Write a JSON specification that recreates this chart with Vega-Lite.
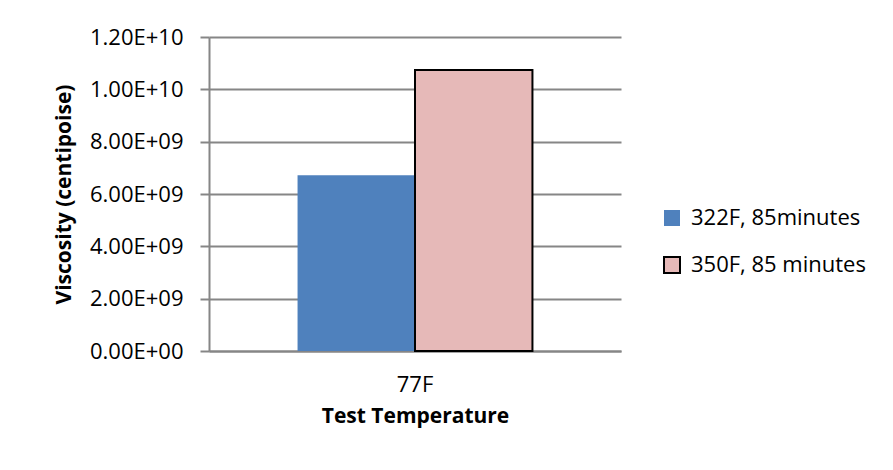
{
  "$schema": "https://vega.github.io/schema/vega-lite/v6.json",
  "autosize": {"type": "none"},
  "padding": {"left": 209, "top": 37, "right": 272, "bottom": 119},
  "width": 412,
  "height": 314,
  "background": "white",
  "data": {
    "values": [
      {"temperature": "77F", "cure": "322F, 85minutes", "viscosity": 6.72e9},
      {"temperature": "77F", "cure": "350F, 85 minutes", "viscosity": 1.074e10}
    ]
  },
  "mark": {"type": "bar"},
  "encoding": {
    "x": {
      "field": "temperature",
      "type": "nominal",
      "scale": {"paddingInner": 0, "paddingOuter": 0.377},
      "axis": {
        "title": "Test Temperature",
        "labelAngle": 0,
        "ticks": false,
        "labelPadding": 23,
        "titlePadding": 10
      }
    },
    "xOffset": {"field": "cure", "type": "nominal", "scale": {"paddingInner": 0, "paddingOuter": 0}},
    "y": {
      "field": "viscosity",
      "type": "quantitative",
      "scale": {"domain": [0, 1.2e10], "nice": false},
      "axis": {
        "title": "Viscosity (centipoise)",
        "values": [0, 2e9, 4e9, 6e9, 8e9, 1e10, 1.2e10],
        "labelExpr": "replace(upper(format(datum.value, '.2e')), regexp('E.([0-9])$'), 'E+0$1')",
        "tickSize": 9,
        "labelPadding": 17,
        "titlePadding": 15
      }
    },
    "color": {
      "field": "cure",
      "type": "nominal",
      "scale": {"range": ["#4F81BD", "#E6B9B8"]},
      "legend": {
        "title": null,
        "orient": "none",
        "legendX": 452,
        "legendY": 170,
        "symbolType": "square",
        "symbolSize": 256,
        "rowPadding": 24,
        "labelOffset": 8,
        "labelLimit": 300
      }
    },
    "stroke": {
      "field": "cure",
      "type": "nominal",
      "scale": {"range": ["transparent", "black"]},
      "legend": null
    },
    "strokeWidth": {
      "field": "cure",
      "type": "nominal",
      "scale": {"range": [0, 2]},
      "legend": null
    }
  },
  "config": {
    "font": "Open Sans",
    "view": {"stroke": null},
    "axis": {
      "labelFont": "Open Sans",
      "labelFontSize": 22,
      "labelColor": "#000000",
      "titleFont": "Open Sans",
      "titleFontSize": 21,
      "titleFontWeight": "bold",
      "titleColor": "#000000",
      "domainColor": "#868686",
      "domainWidth": 2,
      "tickColor": "#868686",
      "tickWidth": 2,
      "gridColor": "#868686",
      "gridWidth": 2
    },
    "axisX": {"grid": false},
    "legend": {
      "labelFont": "Open Sans",
      "labelFontSize": 22,
      "labelColor": "#000000",
      "symbolStrokeColor": "black"
    }
  }
}
